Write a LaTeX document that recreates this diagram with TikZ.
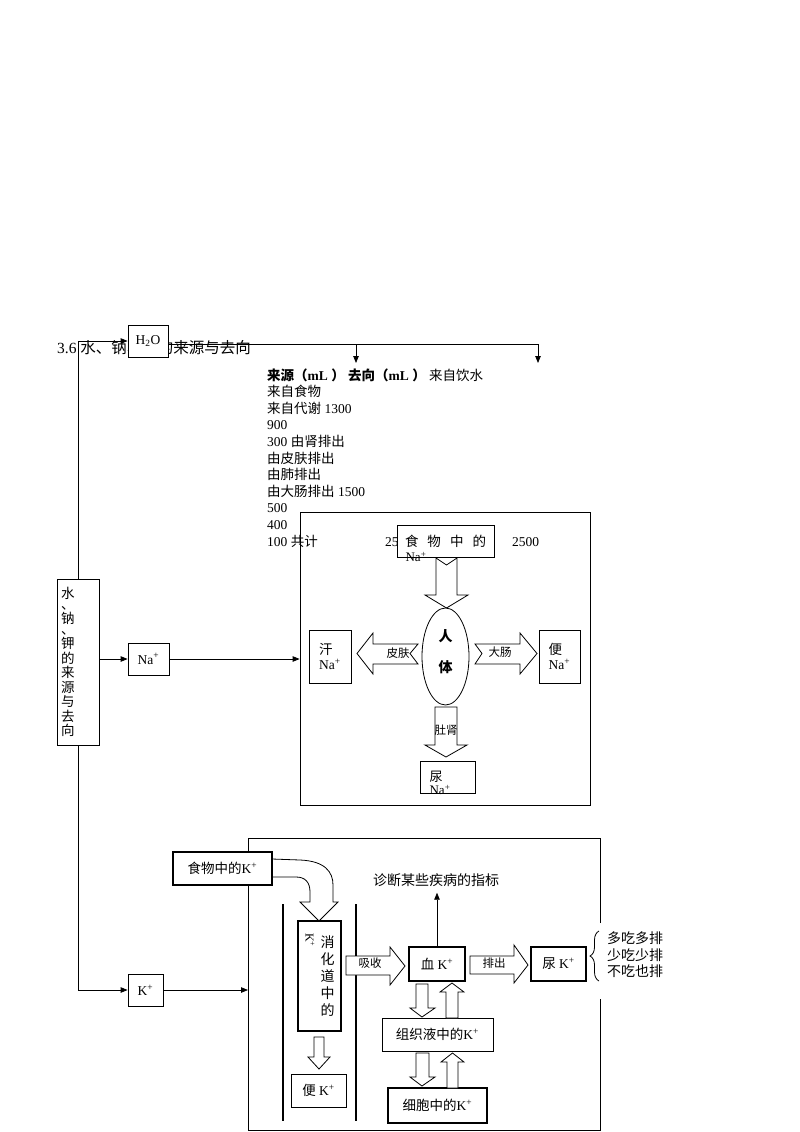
\documentclass[tikz,border=0pt]{standalone}
\usepackage{fontspec}
\setmainfont{Liberation Serif}
\newfontfamily\cjk{Noto Sans CJK SC}
\usetikzlibrary{positioning,shapes.geometric,arrows.meta,decorations.pathreplacing}
\newcommand\zh[1]{{\cjk #1}}
\newcommand\pl{\textsuperscript{+}}

\tikzset{
  box/.style={draw, fill=white, line width=.8pt, inner sep=1pt},
  thickbox/.style={box, line width=2pt},
  link/.style={line width=.8pt, -{Triangle[length=7pt,width=5.5pt]}},
  blockarr/.style={draw, fill=white, line width=.8pt, line join=miter},
  cjk/.style={font=\cjk\fontsize{13.5}{16.6}\selectfont},
  lbl/.style={font=\cjk\fontsize{11.5}{13}\selectfont},
}

\begin{document}
\begin{tikzpicture}[x=1pt, y=-1pt, font=\fontsize{13.5}{16.6}\selectfont]
\useasboundingbox (0,0) rectangle (800,1132);

% heading and water table
\node[anchor=base west, inner sep=0, font=\fontsize{15.5}{18}\selectfont] (title) at (57,353) {3.6 \zh{水、钠、钾的来源与去向}};
\foreach \row [count=\i] in {{{\bfseries\zh{来源（}mL \zh{）}\ \zh{去向（}mL \zh{）}}\ \zh{来自饮水}},
    {\zh{来自食物}}, {\zh{来自代谢} 1300}, {900}, {300 \zh{由肾排出}}, {\zh{由皮肤排出}},
    {\zh{由肺排出}}, {\zh{由大肠排出} 1500}, {500}, {400}, {100 \zh{共计}}}
  \node[anchor=base west, inner sep=0] (tab\i) at (267,363.4+16.6*\i) {\row};
\node[anchor=base west, inner sep=0] (sum1) at (385,546) {2500};
\node[anchor=base west, inner sep=0] (sum2) at (512,546) {2500};
\node[box, minimum width=40, minimum height=32] (h2o) at (148,341) {H\textsubscript{2}O};

% sodium
\node[draw, line width=.8pt, minimum width=290, minimum height=293] (narect) at (445,658.5) {};
\node[box, minimum width=97, minimum height=32, cjk] (foodna) at (445.5,541) {食\hspace{9pt}物\hspace{9pt}中\hspace{9pt}的};
\node[inner sep=0, font=\fontsize{13}{13}\selectfont] (foodnab) at (416,557) {Na\pl};
\draw[blockarr] (436,558) -- (446.5,565) -- (457,558) -- (457,595) -- (468,595) -- (446.5,608) -- (425,595) -- (436,595) -- cycle;
\draw[blockarr] (418,644) -- (410,653.5) -- (418,664) -- (373,664) -- (373,674) -- (357,653.5) -- (373,633) -- (373,644) -- cycle;
\draw[blockarr] (475,644) -- (482,653.5) -- (475,664) -- (520,664) -- (520,674) -- (537,653.5) -- (520,633) -- (520,644) -- cycle;
\draw[blockarr] (435,707) -- (457,707) -- (457,745) -- (467,745) -- (446,757) -- (425,745) -- (435,745) -- cycle;
\node[draw, ellipse, fill=white, line width=.8pt, minimum width=47, minimum height=97, inner sep=0, align=center,
  font=\cjk\bfseries\fontsize{14}{16}\selectfont] (body) at (445.5,656.5) {人\\[15pt]体\\[-6pt]\mbox{}};
\node[lbl, inner sep=0] (skin) at (398,653) {皮肤};
\node[lbl, inner sep=0] (colon) at (500,652) {大肠};
\node[lbl, inner sep=0] (kidney) at (446,730) {肚肾};
\node[box, minimum width=42, minimum height=53, align=left, font=\fontsize{13.5}{15}\selectfont] (sweat) at (330,656.5) {\zh{汗}\\Na\pl};
\node[box, minimum width=41, minimum height=53, align=left, font=\fontsize{13.5}{15}\selectfont] (stool) at (559.5,656.5) {\zh{便}\\Na\pl};
\node[box, minimum width=55, minimum height=32] (urine) at (447.5,777) {};
\node[inner sep=0, align=left, font=\fontsize{13}{13}\selectfont] (urinet) at (440,783) {\zh{尿}\\Na\pl};

% left column
\node[box, text width=34, inner xsep=4, align=left, minimum height=166, font=\cjk\fontsize{13.5}{14.5}\selectfont] (src) at (78,662)
  {水\\[-4pt]、\\钠\\[-4pt]、\\钾\\的\\来\\源\\与\\去\\向};
\node[box, minimum width=41, minimum height=32] (na) at (148.5,659) {Na\pl};
\node[box, minimum width=35, minimum height=32] (k) at (145.5,990) {K\pl};
\coordinate (drop1) at (356,344);
\coordinate (drop2) at (538,344);
\coordinate (kin) at (248,990);
\draw[link] (src.north) |- (h2o.west);
\draw[line width=.8pt] (h2o.east |- drop1) -- (drop2);
\draw[link] (drop1) -- ++(0,19);
\draw[link] (drop2) -- ++(0,19);
\draw[link] (src.east |- na.west) -- (na.west);
\draw[link] (na.east) -- (narect.west |- na.east);
\draw[link] (src.south) |- (k.west);
\draw[link] (k.east) -- (kin);

% potassium
\draw[line width=.8pt] (600,923) |- (248,838) |- (600,1130) -- (600,999);
\draw[blockarr] (272,859) -- (300,860) .. controls (325,861) and (333,872) .. (333,885) -- (333,902) -- (338,902) -- (319,921)
  -- (300,902) -- (310,902) -- (310,892) .. controls (310,882) and (305,877) .. (296,877) -- (272,877);
\node[thickbox, minimum width=99, minimum height=33] (foodk) at (222.5,868.5) {\zh{食物中的}K\pl};
\draw[line width=1.8pt] (283,904) -- (283,1121);
\draw[line width=1.8pt] (356,904) -- (356,1121);
\node[thickbox, minimum width=43, minimum height=110] (gut) at (319.5,976) {};
\node[inner sep=0, align=center, font=\cjk\fontsize{14}{17}\selectfont] (gutt) at (327.5,976) {消\\化\\道\\中\\的};
\node[rotate=-90, inner sep=0, font=\fontsize{12}{12}\selectfont] (gutk) at (310,940) {K\pl};
\draw[blockarr] (314,1037) -- (324,1037) -- (324,1057) -- (330,1057) -- (319,1069) -- (308,1057) -- (314,1057) -- cycle;
\node[box, minimum width=55, minimum height=33] (stoolk) at (318.5,1090.5) {\zh{便} K\pl};
\draw[blockarr] (346,956) -- (390,956) -- (390,947) -- (405,966) -- (390,985) -- (390,975) -- (346,975) -- cycle;
\node[lbl, inner sep=0] (absorb) at (370,963) {吸收};
\node[thickbox, minimum width=56, minimum height=34] (blood) at (437,964) {\zh{血} K\pl};
\draw[blockarr] (470,956) -- (514,956) -- (514,945) -- (528,965) -- (514,983) -- (514,974) -- (470,974) -- cycle;
\node[lbl, inner sep=0] (excrete) at (494,963) {排出};
\node[thickbox, minimum width=55, minimum height=34] (urinek) at (558.5,964) {\zh{尿} K\pl};
\node[box, minimum width=111, minimum height=33] (tissue) at (437.5,1034.5) {\zh{组织液中的}K\pl};
\node[thickbox, minimum width=99, minimum height=35] (cell) at (437.5,1105.5) {\zh{细胞中的}K\pl};
\draw[blockarr] (416,984) -- (428,984) -- (428,1008) -- (435,1008) -- (422,1017) -- (410,1008) -- (416,1008) -- cycle;
\draw[blockarr] (446,1018) -- (458,1018) -- (458,992) -- (464,992) -- (452,983) -- (440,992) -- (446,992) -- cycle;
\draw[blockarr] (416,1053) -- (429,1053) -- (429,1077) -- (435,1077) -- (422,1086) -- (410,1077) -- (416,1077) -- cycle;
\draw[blockarr] (447,1088) -- (458,1088) -- (458,1062) -- (464,1062) -- (452.5,1053) -- (441,1062) -- (447,1062) -- cycle;
\node[inner sep=6pt, font=\cjk\fontsize{14}{14}\selectfont] (diag) at (436,880) {诊断某些疾病的指标};
\draw[link] (blood.north) -- (blood.north |- diag.south);
\draw[line width=.8pt, decorate, decoration={brace, amplitude=9pt}] (599,981) -- (599,931);
\node[anchor=west, inner sep=0, align=left, font=\cjk\fontsize{14}{16.5}\selectfont] (rule) at (607,955) {多吃多排\\少吃少排\\不吃也排};
\end{tikzpicture}
\end{document}
